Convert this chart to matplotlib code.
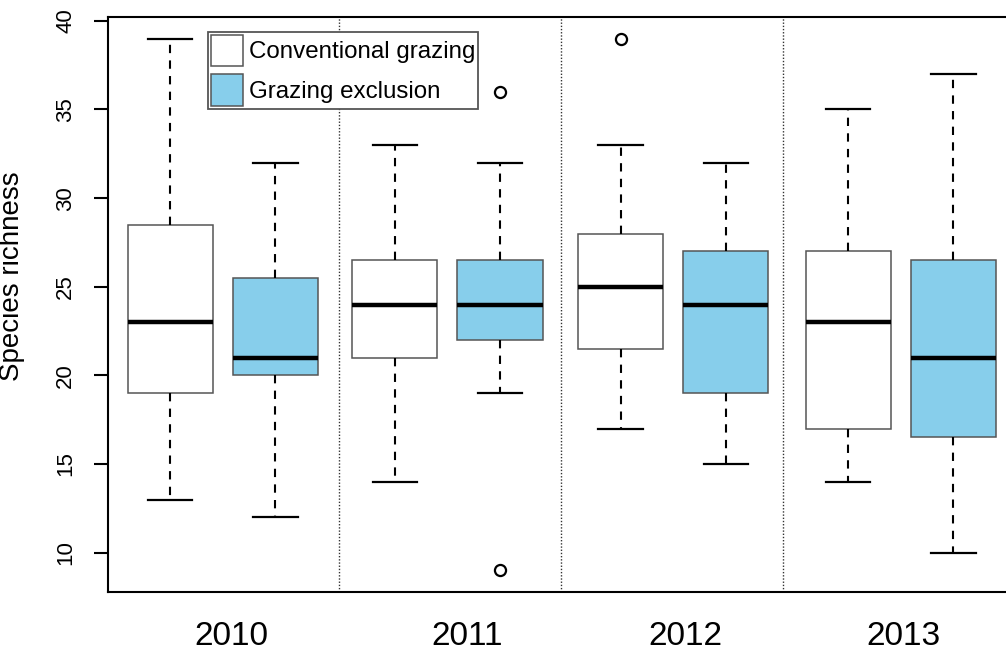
import matplotlib
matplotlib.use('Agg')
import matplotlib.pyplot as plt
from matplotlib.patches import Patch

plt.rcParams['font.family'] = ['Liberation Sans', 'DejaVu Sans']

years = ['2010', '2011', '2012', '2013']

conv_whislo = [13, 14, 17, 14]
conv_q1 = [19, 21, 21.5, 17]
conv_med = [23, 24, 25, 23]
conv_q3 = [28.5, 26.5, 28, 27]
conv_whishi = [39, 33, 33, 35]
conv_fliers = [[], [], [39], []]

graz_whislo = [12, 19, 15, 10]
graz_q1 = [20, 22, 19, 16.5]
graz_med = [21, 24, 24, 21]
graz_q3 = [25.5, 26.5, 27, 26.5]
graz_whishi = [32, 32, 32, 37]
graz_fliers = [[], [36, 9], [], []]

# layout (box positions on the x axis)
conv_pos = [1.0, 3.135, 5.28, 7.445]
graz_pos = [p + 1.0 for p in conv_pos]
sep_pos = [2.6, 4.71, 6.82]
label_pos = [1.585, 3.826, 5.893, 7.966]


def make_stats(lo, q1, med, q3, hi, fl):
    stats = []
    for i in range(len(lo)):
        stats.append({'whislo': lo[i], 'q1': q1[i], 'med': med[i],
                      'q3': q3[i], 'whishi': hi[i], 'fliers': fl[i]})
    return stats


def draw(ax, stats, pos, color):
    ax.bxp(stats, positions=pos, widths=0.81, capwidths=0.42,
           patch_artist=True, showfliers=True,
           boxprops=dict(facecolor=color, edgecolor='#555555', linewidth=1.1),
           medianprops=dict(color='black', linewidth=3.2, solid_capstyle='butt'),
           whiskerprops=dict(color='black', linewidth=1.5, linestyle=(0, (4, 3.5))),
           capprops=dict(color='black', linewidth=1.6),
           flierprops=dict(marker='o', markerfacecolor='none', markeredgecolor='black',
                           markersize=8, markeredgewidth=1.6))


fig = plt.figure(figsize=(10.06, 6.53), dpi=100)
ax = fig.add_axes([108 / 1006, 61.3 / 653, 907 / 1006, 574.4 / 653])

for x in sep_pos:
    ax.axvline(x, color='#333333', linestyle=(0, (1, 1.3)), linewidth=1.0, zorder=0)

draw(ax, make_stats(conv_whislo, conv_q1, conv_med, conv_q3, conv_whishi, conv_fliers),
     conv_pos, 'white')
draw(ax, make_stats(graz_whislo, graz_q1, graz_med, graz_q3, graz_whishi, graz_fliers),
     graz_pos, '#87CEEB')

ax.set_xlim(0.408, 9.03)
ax.set_ylim(7.8, 40.2)

ax.set_yticks([10, 15, 20, 25, 30, 35, 40])
ax.tick_params(axis='y', labelsize=16, labelrotation=90, length=10, width=1.5, pad=13)
for lab in ax.get_yticklabels():
    lab.set_va('center')

ax.set_xticks(label_pos)
ax.set_xticklabels(years)
ax.tick_params(axis='x', labelsize=24, length=0, pad=21)

for side in ['left', 'bottom', 'top']:
    ax.spines[side].set_linewidth(1.5)
ax.spines['right'].set_visible(False)

ax.set_ylabel('Species richness', fontsize=20)
ax.yaxis.set_label_coords(-0.0915, 0.549)

handles = [Patch(facecolor='white', edgecolor='#555555', linewidth=1.1),
           Patch(facecolor='#87CEEB', edgecolor='#555555', linewidth=1.1)]
leg = ax.legend(handles, ['Conventional grazing', 'Grazing exclusion'],
                loc='upper left', bbox_to_anchor=(0.110, 0.9744), borderaxespad=0,
                fontsize=17.4, handlelength=1.33, handleheight=1.62, labelspacing=0.33,
                handletextpad=0.25, borderpad=0.12, fancybox=False, framealpha=1)
leg.get_frame().set_edgecolor('#555555')
leg.get_frame().set_linewidth(1.3)

fig.savefig('out.png', dpi=100)
